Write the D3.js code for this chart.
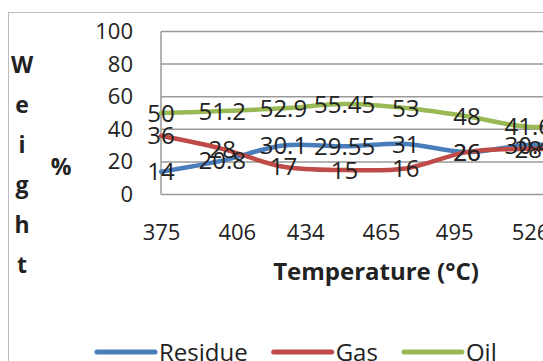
<!DOCTYPE html>
<html>
<head>
<meta charset="utf-8">
<script src="https://cdn.jsdelivr.net/npm/d3@7"></script>
<style>
  body { margin: 0; background: #fff; }
  svg { display: block; font-family: "Open Sans", sans-serif; }
</style>
</head>
<body>
<script>
// tick labels on the temperature axis
const temps = [375, 406, 434, 465, 495, 526];
// samples along the lines (equally spaced)
const samples = [1, 2, 3, 4, 5, 6, 7, 8];
const residue = [14, 20.8, 30.1, 29.55, 31, 26, 30.4, 29];
const gas = [36, 28, 17, 15, 16, 26, 28, 27];
const oil = [50, 51.2, 52.9, 55.45, 53, 48, 41.6, 44];
const yTicks = [0, 20, 40, 60, 80, 100];
const titleLetters = ["W", "e", "i", "g", "h", "t"];

const series = [
  { name: "Residue", values: residue, color: "#4a7ebb" },
  { name: "Gas", values: gas, color: "#be4b48" },
  { name: "Oil", values: oil, color: "#98b954" },
];

const width = 543;
const height = 361;

const svg = d3
  .select("body")
  .append("svg")
  .attr("width", width)
  .attr("height", height);

// outer chart frame (runs off the right / bottom)
svg
  .append("rect")
  .attr("x", 8.5)
  .attr("y", 12.5)
  .attr("width", 700)
  .attr("height", 500)
  .attr("fill", "#fff")
  .attr("stroke", "#bdbdbd");

const plotLeft = 161;
const plotRight = 600;

const xScale = d3
  .scalePoint()
  .domain(samples)
  .range([plotLeft, plotLeft + 61.2 * (samples.length - 1)]);

const tScale = d3.scaleLinear().domain([375, 526]).range([161, 530]);

const yScale = d3.scaleLinear().domain([0, 100]).range([194.5, 31.5]);

// gridlines
svg
  .append("g")
  .selectAll("line")
  .data(yTicks)
  .enter()
  .append("line")
  .attr("x1", plotLeft)
  .attr("x2", plotRight)
  .attr("y1", (d) => yScale(d))
  .attr("y2", (d) => yScale(d))
  .attr("stroke", "#9a9a9a")
  .attr("stroke-width", 1.5);

svg
  .append("line")
  .attr("x1", plotLeft)
  .attr("x2", plotLeft)
  .attr("y1", yScale(100))
  .attr("y2", yScale(0))
  .attr("stroke", "#9a9a9a")
  .attr("stroke-width", 1.5);

// y axis labels
const yAxis = d3.axisLeft(yScale).tickValues(yTicks).tickSize(0).tickPadding(28);
const gy = svg
  .append("g")
  .attr("transform", `translate(${plotLeft}, 0)`)
  .call(yAxis);
gy.select(".domain").remove();
gy.selectAll("text")
  .attr("font-family", "Open Sans")
  .attr("font-size", 22)
  .attr("fill", "#222");

// x axis labels
const xAxis = d3.axisBottom(tScale).tickValues(temps).tickSize(0).tickFormat(d3.format("d"));
const gx = svg.append("g").attr("transform", "translate(0, 240)").call(xAxis);
gx.select(".domain").remove();
gx.selectAll("text")
  .attr("y", 0)
  .attr("dy", 0)
  .attr("font-family", "Open Sans")
  .attr("font-size", 22)
  .attr("fill", "#222");

// lines
const line = d3
  .line()
  .x((d, i) => xScale(samples[i]))
  .y((d) => yScale(d))
  .curve(d3.curveCatmullRom.alpha(0.5));

svg
  .append("g")
  .selectAll("path")
  .data(series)
  .enter()
  .append("path")
  .attr("d", (d) => line(d.values))
  .attr("fill", "none")
  .attr("stroke", (d) => d.color)
  .attr("stroke-width", 4.5)
  .attr("stroke-linejoin", "round")
  .attr("stroke-linecap", "round");

// data labels
series.forEach((s) => {
  svg
    .append("g")
    .selectAll("text")
    .data(s.values)
    .enter()
    .append("text")
    .attr("x", (d, i) => xScale(samples[i]))
    .attr("y", (d) => yScale(d))
    .attr("dy", "0.36em")
    .attr("text-anchor", "middle")
    .attr("font-size", 24)
    .attr("fill", "#222")
    .text((d) => d);
});

// vertical y title
svg
  .append("g")
  .selectAll("text")
  .data(titleLetters)
  .enter()
  .append("text")
  .attr("x", 22)
  .attr("y", (d, i) => 73 + i * 40)
  .attr("text-anchor", "middle")
  .attr("font-weight", "bold")
  .attr("font-size", 23)
  .attr("fill", "#222")
  .text((d) => d);

svg
  .append("text")
  .attr("x", 61)
  .attr("y", 175)
  .attr("text-anchor", "middle")
  .attr("font-weight", "bold")
  .attr("font-size", 23)
  .attr("fill", "#222")
  .text("%");

// x title
svg
  .append("text")
  .attr("x", 376)
  .attr("y", 280)
  .attr("text-anchor", "middle")
  .attr("font-weight", "bold")
  .attr("font-size", 24)
  .attr("fill", "#222")
  .text("Temperature (°C)");

// legend
const legend = svg.append("g").attr("transform", "translate(97, 352)");
let lx = 0;
series.forEach((s) => {
  legend
    .append("line")
    .attr("x1", lx)
    .attr("x2", lx + 58)
    .attr("y1", 0)
    .attr("y2", 0)
    .attr("stroke", s.color)
    .attr("stroke-width", 5)
    .attr("stroke-linecap", "round");
  const t = legend
    .append("text")
    .attr("x", lx + 62)
    .attr("y", 9)
    .attr("font-size", 24)
    .attr("fill", "#222")
    .text(s.name);
  lx += 62 + t.node().getComputedTextLength() + 26;
});
</script>
</body>
</html>
